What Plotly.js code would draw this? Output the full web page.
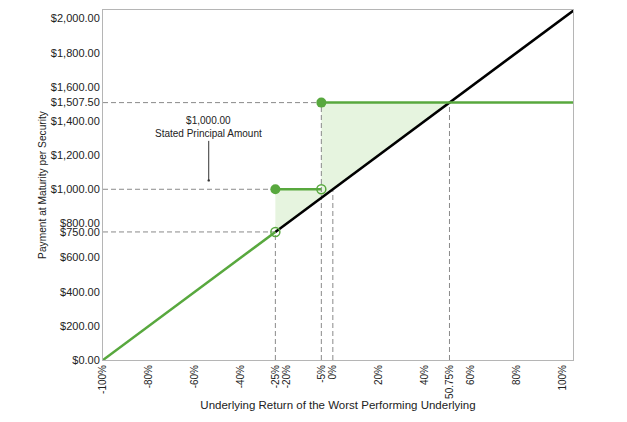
<!DOCTYPE html>
<html>
<head>
<meta charset="utf-8">
<script src="https://cdn.plot.ly/plotly-3.0.1.min.js"></script>
<style>html,body{margin:0;padding:0;background:#fff;}#chart{width:627px;height:422px;}</style>
</head>
<body>
<div id="chart"></div>
<script>
// ---- data ----
const xTickVals = [-100,-80,-60,-40,-25,-20,-5,0,20,40,50.75,60,80,100];
const xTickText = ["-100%","-80%","-60%","-40%","-25%","-20%","-5%","0%","20%","40%","50.75%","60%","80%","100%"];
const yTickVals = [0,200,400,600,750,800,1000,1200,1400,1507.5,1600,1800,2000];
const yTickText = ["$0.00","$200.00","$400.00","$600.00","$750.00","$800.00","$1,000.00","$1,200.00","$1,400.00","$1,507.50","$1,600.00","$1,800.00","$2,000.00"];

const lossX = [-100,-25];          const lossY = [0,750];
const underlyingX = [-25,105];     const underlyingY = [750,2050];
const step1X = [-25,-5];           const step1Y = [1000,1000];
const step2X = [-5,105];           const step2Y = [1507.5,1507.5];
const fillX = [-25,-25,-5,-5,50.75,-25];
const fillY = [750,1000,1000,1507.5,1507.5,750];
const filledPtX = [-25,-5];        const filledPtY = [1000,1507.5];
const openPtX = [-25,-5];          const openPtY = [750,1000];

// guide (dashed) lines: [x0,y0,x1,y1]
const guideH = [[-100,1507.5,-5,1507.5],[-100,1000,-25,1000],[-100,750,-25,750]];
const guideV = [[-25,0,-25,750],[-5,0,-5,1507.5],[0,0,0,1000],[50.75,0,50.75,1507.5]];

const annoX = -54, annoY = 1052;
const annoText = "$1,000.00<br>Stated Principal Amount";

const green = "#58a83e";
const traces = [];
traces.push({x:fillX,y:fillY,mode:"lines",fill:"toself",fillcolor:"rgba(200,230,185,0.45)",line:{width:0},hoverinfo:"skip",showlegend:false});
guideH.concat(guideV).forEach(g=>{
  traces.push({x:[g[0],g[2]],y:[g[1],g[3]],mode:"lines",line:{color:"#8a8a8a",width:1,dash:"5px,3px"},hoverinfo:"skip",showlegend:false});
});
traces.push({x:underlyingX,y:underlyingY,mode:"lines",line:{color:"#000",width:2.5},showlegend:false});
traces.push({x:lossX,y:lossY,mode:"lines",line:{color:green,width:2.5},showlegend:false});
traces.push({x:step1X,y:step1Y,mode:"lines",line:{color:green,width:2.5},showlegend:false});
traces.push({x:step2X,y:step2Y,mode:"lines",line:{color:green,width:2.5},showlegend:false});
traces.push({x:filledPtX,y:filledPtY,mode:"markers",marker:{color:green,size:10},showlegend:false});
traces.push({x:openPtX,y:openPtY,mode:"markers",marker:{color:"rgba(255,255,255,0)",size:9,line:{color:green,width:1.5}},showlegend:false});

const fam = "Liberation Sans, Arial, sans-serif";
const font = {family:fam,size:11,color:"#222"};
const layout = {
  width:627,height:422,
  margin:{l:103,r:54,t:10,b:62},
  paper_bgcolor:"#fff",plot_bgcolor:"#fff",
  font:font,
  showlegend:false,
  xaxis:{range:[-100,104.5],tickmode:"array",tickvals:xTickVals,ticktext:xTickText,tickangle:-90,
    showgrid:false,zeroline:false,showline:true,mirror:true,linecolor:"#b5b5b5",linewidth:1,ticks:"",
    tickfont:{family:fam,size:10,color:"#222"},title:{text:"Underlying Return of the Worst Performing Underlying",font:{family:fam,size:11.5,color:"#222"},standoff:2},automargin:false},
  yaxis:{range:[0,2050],tickmode:"array",tickvals:yTickVals,ticktext:yTickText,
    showgrid:false,zeroline:false,showline:true,mirror:true,linecolor:"#b5b5b5",linewidth:1,ticks:"",
    tickfont:font,title:{text:"Payment at Maturity per Security",font:{family:fam,size:10.2,color:"#222"},standoff:2},automargin:false},
  annotations:[{x:annoX,y:annoY,xref:"x",yref:"y",text:annoText,showarrow:true,arrowhead:6,arrowsize:0.6,arrowwidth:1,arrowcolor:"#333",
    ax:0,ay:-53,font:{family:fam,size:10,color:"#222"},align:"center"}]
};
Plotly.newPlot("chart",traces,layout,{displayModeBar:false,staticPlot:true});
</script>
</body>
</html>
